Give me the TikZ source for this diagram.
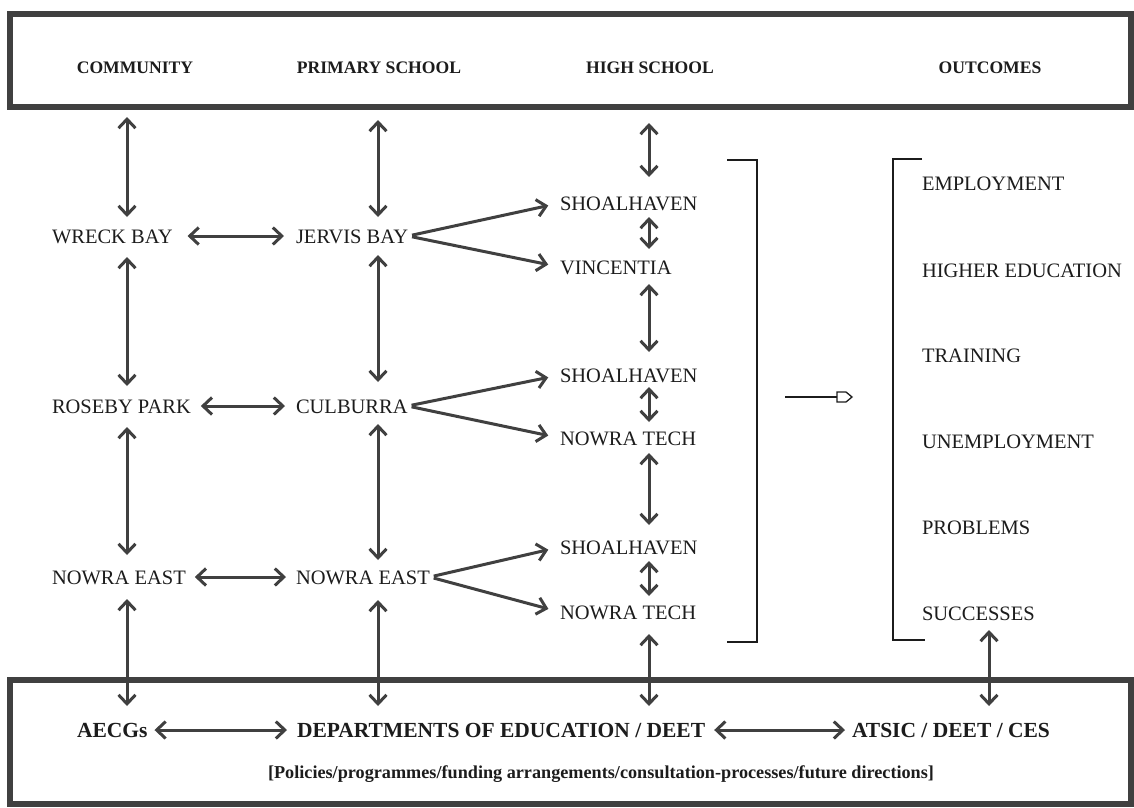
\documentclass[tikz,border=0pt]{standalone}
\usepackage{fontspec}
\setmainfont{Liberation Serif}
\usetikzlibrary{arrows.meta,calc}
\definecolor{ink}{HTML}{404040}
\definecolor{txt}{HTML}{1C1C1C}
\begin{document}
\begin{tikzpicture}[x=1pt,y=-1pt,
  lbl/.style={inner sep=0pt, outer sep=0pt, text height=14pt, text depth=0pt, font=\fontsize{20.5}{24}\selectfont, text=txt, anchor=west},
  hdr/.style={lbl, font=\fontsize{17.6}{22}\selectfont\bfseries, anchor=center},
  bot/.style={lbl, font=\fontsize{21.5}{24}\selectfont\bfseries},
  pol/.style={lbl, font=\fontsize{18.2}{22}\selectfont\bfseries, anchor=center},
  dbl/.style={draw=ink, line width=3pt, {Straight Barb[length=9pt,width=17pt]}-{Straight Barb[length=9pt,width=17pt]}},
  one/.style={draw=ink, line width=3pt, -{Straight Barb[length=9pt,width=17pt]}},
  frame/.style={draw=ink, line width=5.5pt, inner sep=0pt, outer sep=0pt, anchor=north west},
  brk/.style={draw=txt, line width=1.7pt}]
\useasboundingbox (0,0) rectangle (1134,807);
\fill[white] (0,0) rectangle (1134,807);
% column coordinates
\coordinate (cA) at (127,0);
\coordinate (cB) at (378,0);
\coordinate (cC) at (649,0);
\coordinate (cD) at (989,0);
% frames
\node[frame, minimum width=1121pt, minimum height=93pt] (topbox) at (10,14) {};
\node[frame, minimum width=1121pt, minimum height=124pt] (botbox) at (10,680) {};
% headers
\node[hdr] (hcom) at (135,66) {COMMUNITY};
\node[hdr] (hpri) at (379,66) {PRIMARY SCHOOL};
\node[hdr] (hhigh) at (650,66) {HIGH SCHOOL};
\node[hdr] (hout) at (990,66) {OUTCOMES};
% community
\node[lbl] (wreck) at (52,236) {WRECK BAY};
\node[lbl] (roseby) at (52,406) {ROSEBY PARK};
\node[lbl] (neastA) at (52,577) {NOWRA EAST};
% primary
\node[lbl] (jervis) at (296,236) {JERVIS BAY};
\node[lbl] (culb) at (296,406) {CULBURRA};
\node[lbl] (neastB) at (296,577) {NOWRA EAST};
% high school
\node[lbl] (shoalA) at (560,203) {SHOALHAVEN};
\node[lbl] (vinc) at (560,267) {VINCENTIA};
\node[lbl] (shoalB) at (560,375) {SHOALHAVEN};
\node[lbl] (ntechA) at (560,438) {NOWRA TECH};
\node[lbl] (shoalC) at (560,547) {SHOALHAVEN};
\node[lbl] (ntechB) at (560,612) {NOWRA TECH};
% outcomes
\node[lbl] (emp) at (922,183) {EMPLOYMENT};
\node[lbl] (hed) at (922,270) {HIGHER EDUCATION};
\node[lbl] (trn) at (922,355) {TRAINING};
\node[lbl] (unemp) at (922,441) {UNEMPLOYMENT};
\node[lbl] (prob) at (922,527) {PROBLEMS};
\node[lbl] (succ) at (922,613) {SUCCESSES};
% bottom
\node[bot] (aecg) at (77,730) {AECGs};
\node[bot] (dept) at (297,730) {DEPARTMENTS OF EDUCATION / DEET};
\node[bot] (atsic) at (852,730) {ATSIC / DEET / CES};
\node[pol] (policy) at (601,771) {[Policies/programmes/funding arrangements/consultation-processes/future directions]};
% brackets
\draw[brk] (727,160) -- (757,160) -- (757,642) -- (727,642);
\draw[brk] (922,159) -- (893,159) -- (893,640) -- (925,640);
% small outcome arrow
\coordinate (oa) at (785,397);
\coordinate (ob) at (837,397);
\draw[draw=txt, line width=1.3pt] (oa) -- (ob);
\draw[draw=txt, line width=1.3pt, fill=white] (ob) ++(0,-5) -- ++(9,0) -- ++(6,5) -- ++(-6,5) -- ++(-9,0) -- cycle;
% vertical connectors, community column
\draw[dbl, shorten <=10pt, shorten >=12pt] (topbox.south -| cA) -- (wreck.north -| cA);
\draw[dbl, shorten <=14pt, shorten >=13pt] (wreck.south -| cA) -- (roseby.north -| cA);
\draw[dbl, shorten <=14pt, shorten >=15pt] (roseby.south -| cA) -- (neastA.north -| cA);
\draw[dbl, shorten <=15pt, shorten >=17pt] (neastA.south -| cA) -- (aecg.north -| cA);
% primary column
\draw[dbl, shorten <=13pt, shorten >=12pt] (topbox.south -| cB) -- (jervis.north -| cB);
\draw[dbl, shorten <=12pt, shorten >=17pt] (jervis.south -| cB) -- (culb.north -| cB);
\draw[dbl, shorten <=11pt, shorten >=10pt] (culb.south -| cB) -- (neastB.north -| cB);
\draw[dbl, shorten <=16pt, shorten >=17pt] (neastB.south -| cB) -- (dept.north -| cB);
% high school column
\draw[dbl, shorten <=16pt, shorten >=19pt] (topbox.south -| cC) -- (shoalA.north -| cC);
\draw[dbl, shorten <=7pt, shorten >=11pt] (shoalA.south -| cC) -- (vinc.north -| cC);
\draw[dbl, shorten <=10pt, shorten >=16pt] (vinc.south -| cC) -- (shoalB.north -| cC);
\draw[dbl, shorten <=5pt, shorten >=9pt] (shoalB.south -| cC) -- (ntechA.north -| cC);
\draw[dbl, shorten <=8pt, shorten >=15pt] (ntechA.south -| cC) -- (shoalC.north -| cC);
\draw[dbl, shorten <=7pt, shorten >=9pt] (shoalC.south -| cC) -- (ntechB.north -| cC);
\draw[dbl, shorten <=15pt, shorten >=17pt] (ntechB.south -| cC) -- (dept.north -| cC);
% outcomes column
\draw[dbl, shorten <=10pt, shorten >=17pt] (succ.south -| cD) -- (atsic.north -| cD);
% horizontal connectors
\draw[dbl, shorten <=15pt, shorten >=12pt] (wreck.east) -- (jervis.west);
\draw[dbl, shorten <=10pt, shorten >=11pt] (roseby.east) -- (culb.west);
\draw[dbl, shorten <=9pt, shorten >=10pt] (neastA.east) -- (neastB.west);
\draw[dbl, shorten <=7pt, shorten >=10pt] (aecg.east) -- (dept.west);
\draw[dbl, shorten <=9pt, shorten >=7pt] (dept.east) -- (atsic.west);
% fans
\draw[one, shorten <=4pt, shorten >=12pt] (jervis.east) -- (shoalA.west);
\draw[one, shorten <=4pt, shorten >=12pt] (jervis.east) -- (vinc.west);
\draw[one, shorten <=4pt, shorten >=12pt] (culb.east) -- (shoalB.west);
\draw[one, shorten <=4pt, shorten >=12pt] (culb.east) -- (ntechA.west);
\draw[one, shorten <=4pt, shorten >=12pt] (neastB.east) -- (shoalC.west);
\draw[one, shorten <=4pt, shorten >=12pt] (neastB.east) -- (ntechB.west);
\end{tikzpicture}
\end{document}
